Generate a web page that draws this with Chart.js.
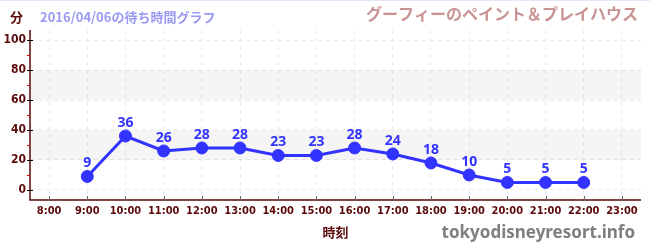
<!DOCTYPE html>
<html>
<head>
<meta charset="utf-8">
<script src="https://cdn.jsdelivr.net/npm/chart.js@4"></script>
<style>
  html, body { margin: 0; padding: 0; background: #fff; }
  #wrap { width: 650px; height: 250px; }
</style>
</head>
<body>
<div id="wrap"><canvas id="wait-chart" width="650" height="250"></canvas></div>
<script>
var hours = ['8:00', '9:00', '10:00', '11:00', '12:00', '13:00', '14:00', '15:00',
             '16:00', '17:00', '18:00', '19:00', '20:00', '21:00', '22:00', '23:00'];
var waitMinutes = [null, 9, 36, 26, 28, 28, 23, 23, 28, 24, 18, 10, 5, 5, 5, null];
var yTicks = [0, 10, 20, 30, 40, 50, 60, 70, 80, 90, 100];
var bands = [[20, 40], [60, 80]];

var dark = '#5a0a0a';
var blue = '#3333ff';

// shaded bands, axis tick marks, point labels and the page texts
var extras = {
    id: 'extras',
    beforeDatasetsDraw: function (chart) {
        var c = chart.ctx, a = chart.chartArea, y = chart.scales.y;
        c.save();
        c.fillStyle = 'rgba(0,0,0,0.04)';
        bands.forEach(function (b) {
            var top = y.getPixelForValue(b[1]), bot = y.getPixelForValue(b[0]);
            c.fillRect(a.left + 1, top, a.right - a.left - 1, bot - top);
        });
        c.restore();
    },
    afterDraw: function (chart) {
        var c = chart.ctx, a = chart.chartArea, x = chart.scales.x, y = chart.scales.y;
        c.save();
        // axis lines
        c.strokeStyle = dark;
        c.lineWidth = 1.5;
        c.beginPath();
        c.moveTo(a.left, a.top);
        c.lineTo(a.left, a.bottom);
        c.lineTo(a.right, a.bottom);
        c.stroke();
        // y tick marks
        c.lineWidth = 1;
        yTicks.forEach(function (v) {
            var py = Math.round(y.getPixelForValue(v)) + 0.5;
            c.strokeStyle = v % 20 === 0 ? '#000' : '#cc0000';
            c.beginPath();
            c.moveTo(a.left - 3, py);
            c.lineTo(a.left + (v % 20 === 0 ? 3 : 0), py);
            c.stroke();
        });
        // x tick marks
        c.strokeStyle = '#666';
        hours.forEach(function (h, i) {
            var px = Math.round(x.getPixelForValue(i)) + 0.5;
            c.beginPath();
            c.moveTo(px, a.bottom - 4);
            c.lineTo(px, a.bottom + 1);
            c.stroke();
        });
        // value labels
        var meta = chart.getDatasetMeta(0);
        c.fillStyle = blue;
        c.font = 'bold 14px "Noto Sans"';
        c.textAlign = 'center';
        c.textBaseline = 'bottom';
        meta.data.forEach(function (pt, i) {
            if (waitMinutes[i] === null) return;
            c.fillText(String(waitMinutes[i]), pt.x, pt.y - 6);
        });
        // texts
        c.textBaseline = 'middle';
        c.textAlign = 'left';
        c.fillStyle = dark;
        c.font = 'bold 13px "Noto Sans CJK JP"';
        c.fillText('分', 10, 17);
        c.fillStyle = '#9a9af5';
        c.font = 'bold 13px "Noto Sans CJK JP"';
        c.fillText('2016/04/06の待ち時間グラフ', 40, 17);
        c.textAlign = 'right';
        c.fillStyle = '#c99393';
        c.font = 'bold 16px "Noto Sans CJK JP"';
        c.fillText('グーフィーのペイント＆プレイハウス', 638, 14);
        c.fillStyle = '#7f7f7f';
        c.font = 'bold 17px "Noto Sans"';
        c.fillText('tokyodisneyresort.info', 635, 233);
        c.textAlign = 'center';
        c.fillStyle = dark;
        c.font = 'bold 13px "Noto Sans CJK JP"';
        c.fillText('時刻', (a.left + a.right) / 2, 232);
        // top line
        c.strokeStyle = '#e6e6fa';
        c.beginPath();
        c.moveTo(0, 0.5);
        c.lineTo(650, 0.5);
        c.stroke();
        c.restore();
    }
};

var ctx = document.getElementById('wait-chart');
var waitChart = new Chart(ctx, {
    type: 'line',
    data: {
        labels: hours,
        datasets: [{
            data: waitMinutes,
            borderColor: blue,
            backgroundColor: blue,
            borderWidth: 3,
            pointRadius: 6,
            pointBorderWidth: 1,
            pointHoverRadius: 6,
            tension: 0,
            spanGaps: false
        }]
    },
    plugins: [extras],
    options: {
        responsive: false,
        animation: false,
        events: [],
        layout: { padding: { top: 30, right: 9, left: 0, bottom: 0 } },
        plugins: {
            legend: { display: false },
            tooltip: { enabled: false }
        },
        scales: {
            x: {
                offset: true,
                afterFit: function (s) { s.height = 50; },
                border: { display: false, dash: [4, 4] },
                grid: {
                    offset: false,
                    color: '#ebebeb',
                    drawTicks: false
                },
                ticks: {
                    color: dark,
                    padding: 5,
                    maxRotation: 0,
                    autoSkip: false,
                    font: { family: 'DejaVu Sans Condensed', weight: 'bold', size: 11 }
                }
            },
            y: {
                min: -6.7,
                max: 106.7,
                afterFit: function (s) { s.width = 30; },
                afterBuildTicks: function (s) {
                    s.ticks = yTicks.map(function (v) { return { value: v }; });
                },
                border: { display: false, dash: [4, 4] },
                grid: {
                    color: function (c) {
                        return c.tick && c.tick.value % 20 === 0 ? '#ebebeb' : 'rgba(0,0,0,0)';
                    },
                    drawTicks: false
                },
                ticks: {
                    color: dark,
                    padding: 4,
                    font: { family: 'DejaVu Sans Condensed', weight: 'bold', size: 12 },
                    callback: function (v) { return v % 20 === 0 ? v : ''; }
                }
            }
        }
    }
});
</script>
</body>
</html>
